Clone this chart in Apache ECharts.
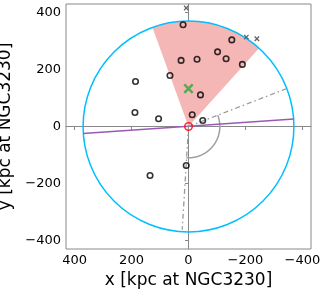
<!DOCTYPE html>
<html>
<head>
<meta charset="utf-8">
<style>
  html, body { margin: 0; padding: 0; background: #fff; }
  #chart { width: 327px; height: 290px; }
</style>
<script src="https://cdn.jsdelivr.net/npm/echarts@6/dist/echarts.min.js"></script>
</head>
<body>
<div id="chart"></div>
<script>
// 刻度
var tickValues = [-400, -200, 0, 200, 400];
// 卫星星系 (open circles)
var satellites = [[19, 357], [26, 232], [-30, 236], [-102, 262], [-152, 304], [-132, 238],
  [-189, 218], [65, 179], [186, 158], [188, 49], [105, 27], [-13, 41], [-50, 21],
  [-42, 111], [8, -137], [135, -172]];
// 圆外的点 (gray x)
var outside = [[8, 416], [-203, 314], [-240, 308]];
var centroid = [[0, 133]];
var host = [[0, 0]];
// 紫色主轴线
var majorAxis = [[370, -25], [-370, 26]];
// 点划线
var rayA = [[0, 0], [-342, 132]];
var rayB = [[0, 0], [22, -362]];
var circleRadius = 370;
var wedgeAngles = [70, 132];
var arcRadius = 110;
var arcAngles = [159, 274];

(function () {
  var chartDom = document.getElementById('chart');
  var myChart = echarts.init(chartDom);
  var font = 'DejaVu Sans';
  var minus = function (v) { return v < 0 ? '\u2212' + (-v) : '' + v; };

  // 极坐标 -> 像素 (通过坐标轴换算)
  function polar(api, r, deg) {
    var a = deg * Math.PI / 180;
    return api.coord([r * Math.cos(a), r * Math.sin(a)]);
  }

  function axisCommon() {
    return {
      type: 'value',
      min: -430,
      max: 430,
      splitLine: { show: false },
      axisLine: { lineStyle: { color: '#888', width: 1 } },
      axisTick: { customValues: tickValues, length: 3.5, lineStyle: { color: '#888' } },
      axisLabel: {
        customValues: tickValues,
        formatter: minus,
        color: '#000',
        fontSize: 13,
        fontFamily: font
      },
      nameLocation: 'middle',
      nameTextStyle: { color: '#000', fontSize: 17, fontFamily: font }
    };
  }

  var xAxis = axisCommon();
  xAxis.inverse = true;
  xAxis.name = 'x [kpc at NGC3230]';
  xAxis.nameGap = 22;
  xAxis.axisLabel.margin = 5;

  var yAxis = axisCommon();
  yAxis.name = 'y [kpc at NGC3230]';
  yAxis.nameGap = 35;
  yAxis.axisLabel.margin = 5;

  var option = {
    animation: false,
    grid: {
      left: 66, right: 16, top: 4, bottom: 41,
      outerBoundsMode: 'none',
      containLabel: false,
      show: true,
      borderColor: '#888',
      borderWidth: 1
    },
    xAxis: xAxis,
    yAxis: yAxis,
    series: [
      {
        // 扇形区域
        type: 'custom',
        z: 1,
        data: [[0, 0]],
        renderItem: function (params, api) {
          var pts = [api.coord([0, 0])];
          for (var d = wedgeAngles[0]; d <= wedgeAngles[1]; d += 1) {
            pts.push(polar(api, circleRadius, d));
          }
          return {
            type: 'polygon',
            shape: { points: pts },
            style: { fill: '#f5b6b6', stroke: 'none' }
          };
        }
      },
      {
        // 圆
        type: 'custom',
        z: 2,
        data: [[0, 0]],
        renderItem: function (params, api) {
          var c = api.coord([0, 0]);
          var r = api.size([circleRadius, 0])[0];
          return {
            type: 'circle',
            shape: { cx: c[0], cy: c[1], r: r },
            style: { fill: 'none', stroke: '#00bfff', lineWidth: 1.5 }
          };
        }
      },
      {
        // 弧
        type: 'custom',
        z: 2,
        data: [[0, 0]],
        renderItem: function (params, api) {
          var pts = [];
          for (var d = arcAngles[0]; d <= arcAngles[1]; d += 1) {
            pts.push(polar(api, arcRadius, d));
          }
          return {
            type: 'polyline',
            shape: { points: pts },
            style: { fill: 'none', stroke: '#a0a0a0', lineWidth: 1.5 }
          };
        }
      },
      {
        type: 'line',
        z: 3,
        data: majorAxis,
        symbol: 'none',
        lineStyle: { color: '#9b59b6', width: 1.5 }
      },
      {
        type: 'line',
        z: 3,
        data: rayA,
        symbol: 'none',
        lineStyle: { color: '#999', width: 1.3, type: [5, 3, 1.5, 3] }
      },
      {
        type: 'line',
        z: 3,
        data: rayB,
        symbol: 'none',
        lineStyle: { color: '#999', width: 1.3, type: [5, 3, 1.5, 3] }
      },
      {
        type: 'scatter',
        z: 5,
        data: satellites,
        symbol: 'circle',
        symbolSize: 5.5,
        itemStyle: { color: 'none', borderColor: '#000', borderWidth: 1.6 }
      },
      {
        type: 'scatter',
        z: 5,
        data: host,
        symbol: 'circle',
        symbolSize: 7.5,
        itemStyle: { color: 'none', borderColor: '#ff0000', borderWidth: 1.6 }
      },
      {
        // 灰色 x
        type: 'custom',
        z: 5,
        data: outside,
        renderItem: function (params, api) {
          var p = api.coord([api.value(0), api.value(1)]);
          var h = 2.2;
          var st = { stroke: '#666', lineWidth: 1.3 };
          return {
            type: 'group',
            children: [
              { type: 'line', shape: { x1: p[0] - h, y1: p[1] - h, x2: p[0] + h, y2: p[1] + h }, style: st },
              { type: 'line', shape: { x1: p[0] - h, y1: p[1] + h, x2: p[0] + h, y2: p[1] - h }, style: st }
            ]
          };
        }
      },
      {
        // 绿色 X
        type: 'custom',
        z: 6,
        data: centroid,
        renderItem: function (params, api) {
          var p = api.coord([api.value(0), api.value(1)]);
          var h = 4.2;
          var st = { stroke: '#4caf50', lineWidth: 2.5 };
          return {
            type: 'group',
            children: [
              { type: 'line', shape: { x1: p[0] - h, y1: p[1] - h, x2: p[0] + h, y2: p[1] + h }, style: st },
              { type: 'line', shape: { x1: p[0] - h, y1: p[1] + h, x2: p[0] + h, y2: p[1] - h }, style: st }
            ]
          };
        }
      }
    ]
  };

  option && myChart.setOption(option);
})();
</script>
</body>
</html>
